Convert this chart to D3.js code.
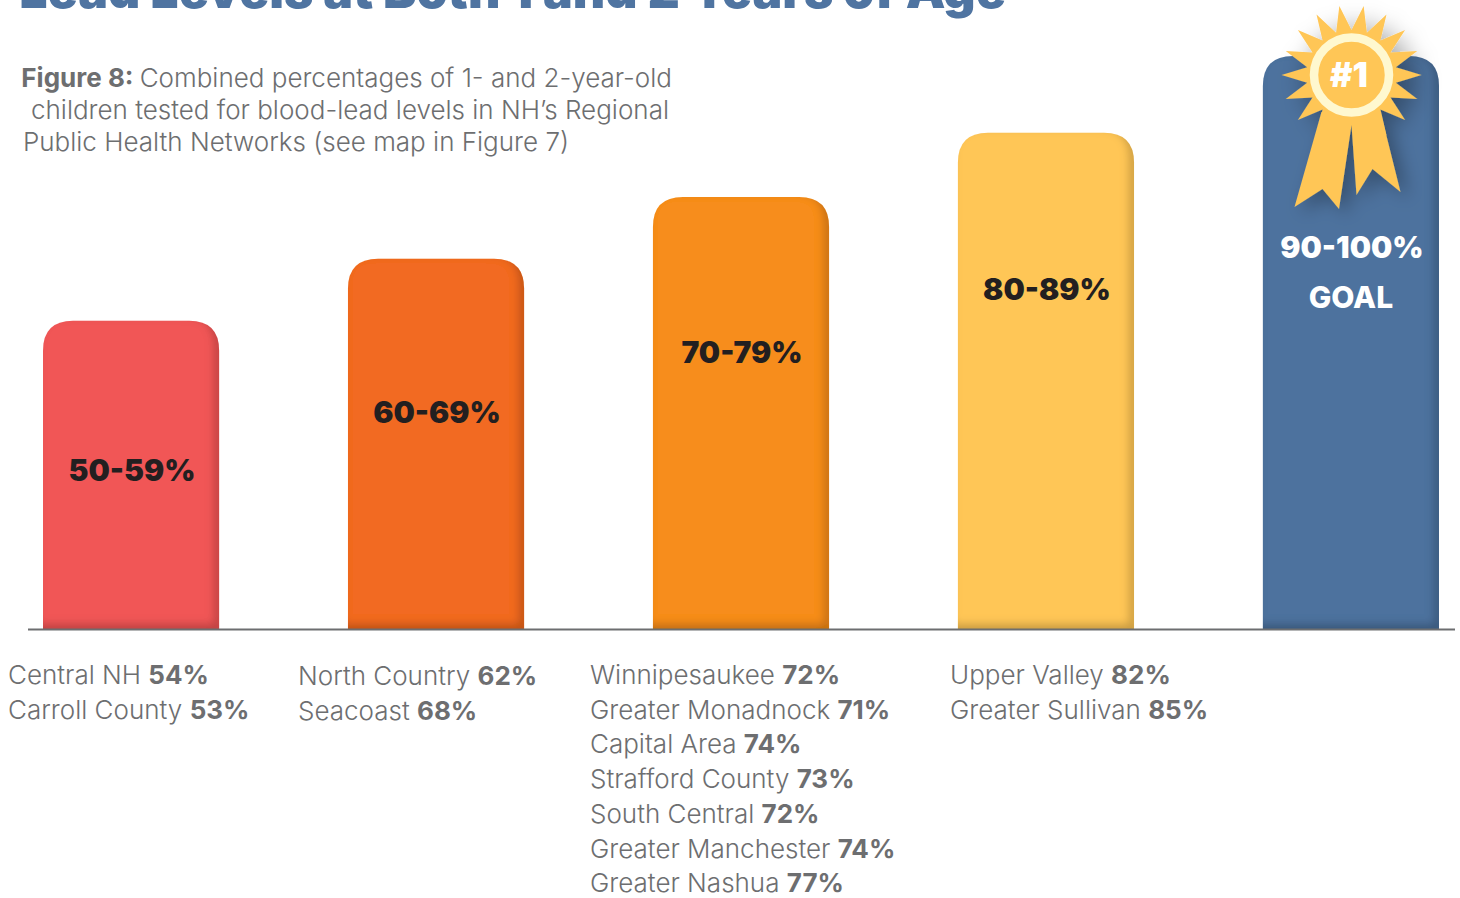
<!DOCTYPE html>
<html><head><meta charset="utf-8">
<script src="https://cdn.jsdelivr.net/npm/d3@7"></script>
<style>html,body{margin:0;padding:0;background:#fff;overflow:hidden}svg{display:block}
text{font-family:Inter,"Open Sans",sans-serif}</style></head>
<body><svg id="c" width="1460" height="898"></svg>
<script>
const titleText = "Lead Levels at Both 1 and 2 Years of Age";
const captionBold = "Figure 8:";
const captionLines = ["Combined percentages of 1- and 2-year-old","children tested for blood-lead levels in NH’s Regional","Public Health Networks (see map in Figure 7)"];
const bands = ["50-59%","60-69%","70-79%","80-89%","90-100%"];
const barHeights = [53.8,64.6,75.4,86.6,100];
const barColors = ["#f15656","#f26a21","#f78d1f","#ffc657","#4e729e"];
const labelColors = ["#231f20","#231f20","#231f20","#231f20","#ffffff"];
const regionNames = [["Central NH","Carroll County"],["North Country","Seacoast"],
 ["Winnipesaukee","Greater Monadnock","Capital Area","Strafford County","South Central","Greater Manchester","Greater Nashua"],
 ["Upper Valley","Greater Sullivan"],[]];
const regionValues = [[54,53],[62,68],[72,71,74,73,72,74,77],[82,85],[]];

const svg = d3.select("#c");
const x = d3.scaleBand().domain(bands).range([43,1439]).paddingInner(0.4225).paddingOuter(0);
const y = d3.scaleLinear().domain([0,100]).range([629,56]);
const defs = svg.append("defs");

const f = defs.append("filter").attr("id","inner").attr("x","-5%").attr("y","-5%").attr("width","110%").attr("height","110%");
f.append("feComponentTransfer").attr("in","SourceAlpha").attr("result","inv")
 .append("feFuncA").attr("type","table").attr("tableValues","1 0");
f.append("feOffset").attr("in","inv").attr("dx",-5).attr("dy",-5).attr("result","off");
f.append("feGaussianBlur").attr("in","off").attr("stdDeviation",4.5).attr("result","bl");
f.append("feFlood").attr("flood-color","#000").attr("flood-opacity",0.42).attr("result","col");
f.append("feComposite").attr("in","col").attr("in2","bl").attr("operator","in").attr("result","sh");
f.append("feComposite").attr("in","sh").attr("in2","SourceAlpha").attr("operator","in").attr("result","shc");
const m = f.append("feMerge"); m.append("feMergeNode").attr("in","SourceGraphic"); m.append("feMergeNode").attr("in","shc");

const ds = defs.append("filter").attr("id","drop").attr("x","-30%").attr("y","-30%").attr("width","170%").attr("height","170%");
ds.append("feDropShadow").attr("dx",8).attr("dy",6).attr("stdDeviation",9).attr("flood-color","#000").attr("flood-opacity",0.3);

// title
svg.append("text").attr("x",1006).attr("y",8).attr("text-anchor","end")
 .attr("font-size",50).attr("font-weight",900).attr("fill","#4f74a1").text(titleText);

// caption
const cap = svg.append("g").attr("font-size",26).attr("fill","#6d6e70");
const capRight = [672,669,569];
captionLines.forEach((l,i)=>{
  const t = cap.append("text").attr("x",capRight[i]).attr("y",87+i*32).attr("text-anchor","end").attr("font-weight",300);
  if(i===0) t.append("tspan").attr("font-weight",700).text(captionBold+" ");
  t.append("tspan").text(l);
});

// bars
const r = 30;
function barPath(b,v){
  const x0=x(b),x1=x0+x.bandwidth(),y0=y(v),y1=y(0);
  return `M${x0},${y1}V${y0+r}Q${x0},${y0} ${x0+r},${y0}H${x1-r}Q${x1},${y0} ${x1},${y0+r}V${y1}Z`;
}
svg.append("g").selectAll("path").data(bands).join("path")
 .attr("d",(b,i)=>barPath(b,barHeights[i])).attr("fill",(b,i)=>barColors[i]).attr("filter","url(#inner)");

// baseline
svg.append("line").attr("x1",28).attr("x2",1455).attr("y1",y(0)+0.5).attr("y2",y(0)+0.5).attr("stroke","#6d6e70").attr("stroke-width",2);

// band labels
const labelY = barHeights.map(v=>y(v)+ (v===100?202:160));
svg.append("g").selectAll("text").data(bands).join("text")
 .attr("x",(b,i)=>x(b)+x.bandwidth()/2+1).attr("y",(b,i)=>y(barHeights[i])+[160,164,166,167,202][i])
 .attr("text-anchor","middle").attr("font-size",30).attr("font-weight",900)
 .attr("fill",(b,i)=>labelColors[i]).text(b=>b);
svg.append("text").attr("x",x("90-100%")+x.bandwidth()/2).attr("y",308).attr("text-anchor","middle")
 .attr("font-size",30).attr("font-weight",800).attr("fill","#fff").text("GOAL");

// badge
const cx=1351.5, cy=75;
const badge = svg.append("g").attr("filter","url(#drop)");
const star = d3.range(36).map(i=>{const a=i*Math.PI/18, rr=i%2===0?70:45; return [cx+rr*Math.cos(a),cy+rr*Math.sin(a)];});
badge.append("path").attr("d",d3.line()(star)+"Z").attr("fill","#ffc657");
const ribbon=[[-30,37],[-57,132],[-29,114],[-12.5,134],[0,50],[5,120],[21,94],[49,117],[29,37]];
badge.append("path").attr("d",d3.line()(ribbon.map(p=>[cx+p[0],cy+p[1]]))+"Z").attr("fill","#ffc657");
badge.append("circle").attr("cx",cx).attr("cy",cy).attr("r",37.5).attr("fill","#ffc657").attr("stroke","#fff8cf").attr("stroke-width",8.5);
svg.append("text").attr("x",cx-2.5).attr("y",87).attr("text-anchor","middle").attr("font-size",34).attr("font-weight",900).attr("fill","#fff").text("#1");

// region lists
const listX=[8,298,590,950], listY=[684,685,684,684];
const lists = svg.append("g").attr("font-size",26).attr("fill","#6d6e70");
regionNames.forEach((names,c)=>names.forEach((n,i)=>{
  const t=lists.append("text").attr("x",listX[c]).attr("y",listY[c]+i*34.7).attr("font-weight",300);
  t.append("tspan").text(n+" ");
  t.append("tspan").attr("font-weight",700).text(regionValues[c][i]+"%");
}));
</script></body></html>
